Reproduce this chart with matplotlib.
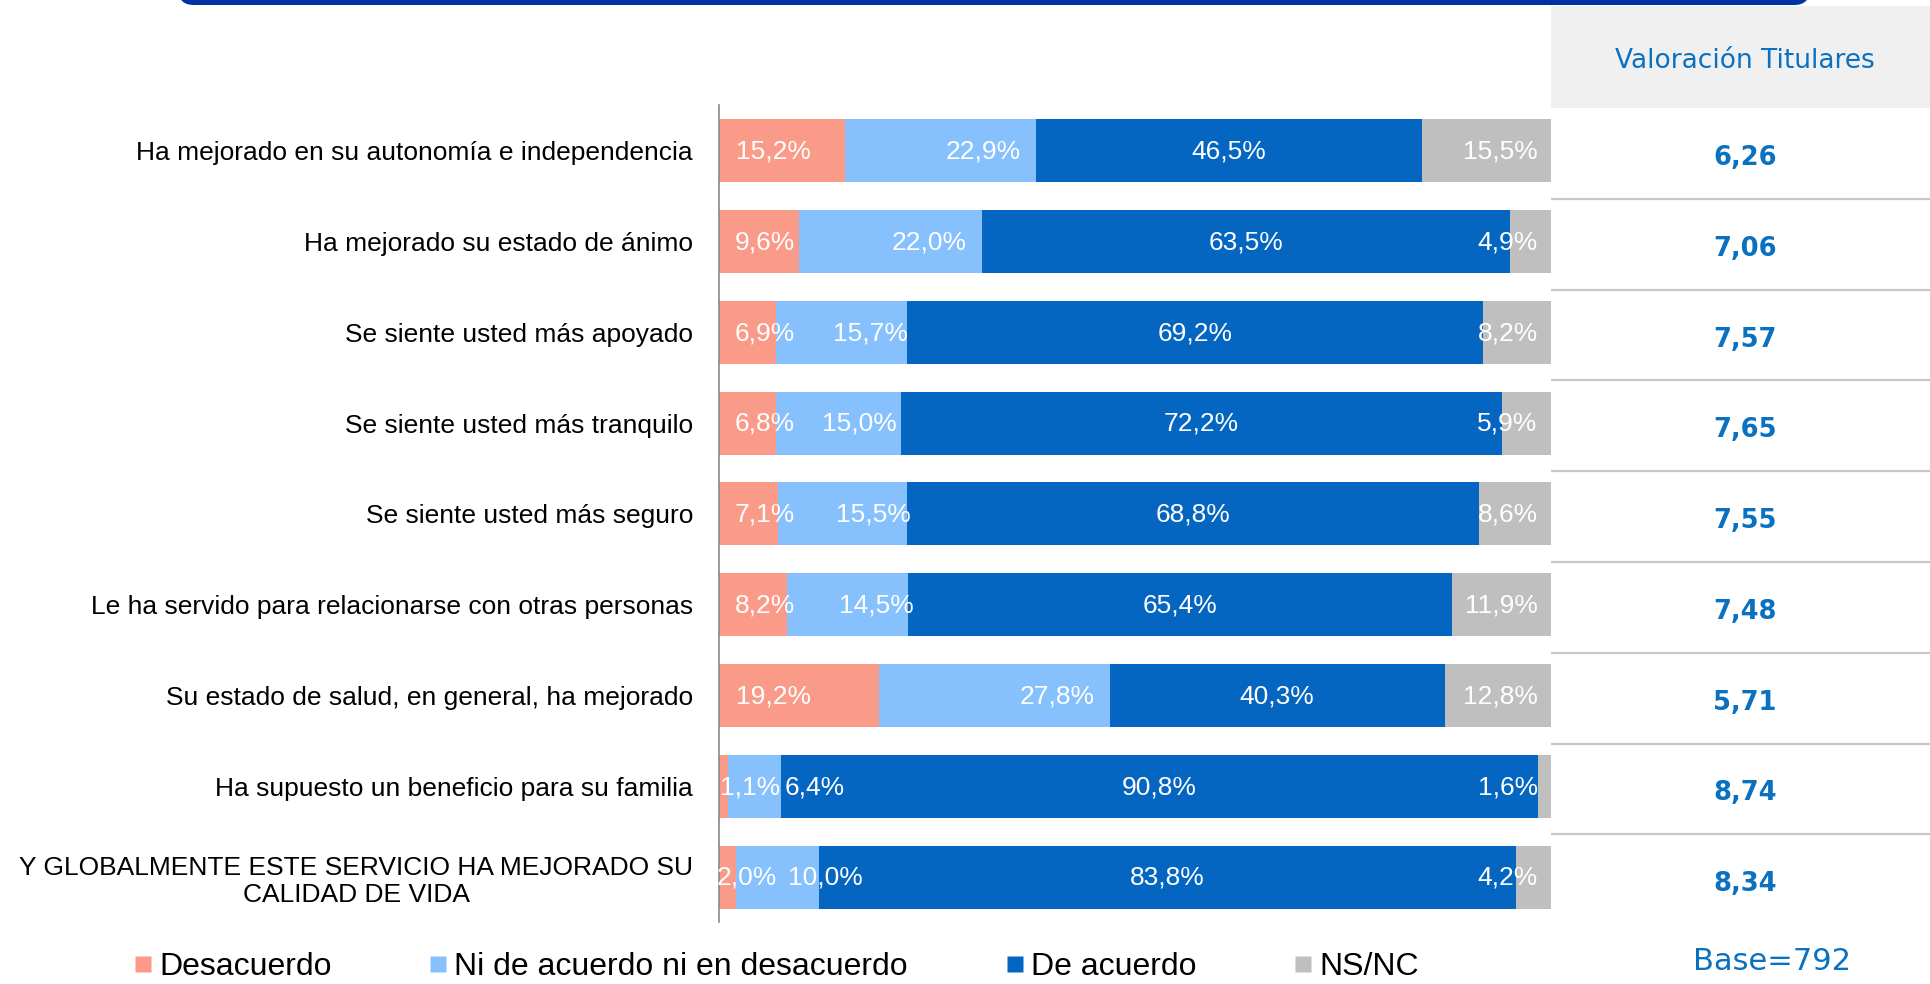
"""
Stacked 100% bar chart: valoracion del servicio (titulares), with a side column of scores.
Writes out.png (1931x984).
"""
import matplotlib
matplotlib.use("Agg")
import matplotlib.pyplot as plt
import numpy as np
from matplotlib.lines import Line2D
from matplotlib.patches import FancyBboxPatch, Rectangle

W, H, DPI = 1931, 984, 100

categories = [
    "Ha mejorado en su autonomía e independencia",
    "Ha mejorado su estado de ánimo",
    "Se siente usted más apoyado",
    "Se siente usted más tranquilo",
    "Se siente usted más seguro",
    "Le ha servido para relacionarse con otras personas",
    "Su estado de salud, en general, ha mejorado",
    "Ha supuesto un beneficio para su familia",
    "Y GLOBALMENTE ESTE SERVICIO HA MEJORADO SU\nCALIDAD DE VIDA",
]
series_names = ["Desacuerdo", "Ni de acuerdo ni en desacuerdo", "De acuerdo", "NS/NC"]
desacuerdo = [15.2, 9.6, 6.9, 6.8, 7.1, 8.2, 19.2, 1.1, 2.0]
neutral = [22.9, 22.0, 15.7, 15.0, 15.5, 14.5, 27.8, 6.4, 10.0]
de_acuerdo = [46.5, 63.5, 69.2, 72.2, 68.8, 65.4, 40.3, 90.8, 83.8]
nsnc = [15.5, 4.9, 8.2, 5.9, 8.6, 11.9, 12.8, 1.6, 4.2]
scores = [6.26, 7.06, 7.57, 7.65, 7.55, 7.48, 5.71, 8.74, 8.34]
score_title = "Valoración Titulares"
base_text = "Base=792"

COLORS = ["#F99B88", "#86C1FD", "#0566C1", "#BFBFBF"]
ACCENT = "#0A70C0"
# label nudges from segment centre (in % of bar), as placed in the original
NUDGE_DES = [-1.1, 0.7, 2.0, 2.1, 1.9, 1.4, -3.1, 3.2, 2.3]
NUDGE_NEU = [5.1, 4.6, 3.4, 2.6, 3.7, 3.5, 7.6, 7.2, 5.8]

SANS = "Liberation Sans"


def fmt_pct(v):
    return f"{v:.1f}%".replace(".", ",")


def main():
    fig = plt.figure(figsize=(W / DPI, H / DPI), dpi=DPI)

    # pixel-space background layer (banner, header box)
    bg = fig.add_axes([0, 0, 1, 1], zorder=0)
    bg.set_xlim(0, W)
    bg.set_ylim(H, 0)
    bg.axis("off")
    bg.add_patch(FancyBboxPatch((178, -60), 1632, 65,
                                boxstyle="round,pad=0,rounding_size=16",
                                fc="#0033A0", ec="none"))
    bg.add_patch(Rectangle((1551, 6), W - 1551, 102, fc="#F0F0F0", ec="none"))
    bg.text(1745, 61, score_title, ha="center", va="center", fontsize=19,
            color=ACCENT, family="DejaVu Sans")
    bg.text(1772, 962, base_text, ha="center", va="center", fontsize=22,
            color=ACCENT, family="DejaVu Sans")

    # bar axes, rows run top to bottom
    y_top, y_bot = 105.3, 922.4
    ax_rect = [719 / W, 1 - y_bot / H, (1551 - 719) / W, (y_bot - y_top) / H]
    ax = fig.add_axes(ax_rect, zorder=1)
    ax.set_facecolor("none")

    data = np.array([desacuerdo, neutral, de_acuerdo, nsnc])
    shares = data / data.sum(axis=0) * 100
    y = np.arange(len(categories))
    left = np.zeros(len(categories))
    for k in range(4):
        ax.barh(y, shares[k], left=left, height=0.694, color=COLORS[k],
                label=series_names[k], edgecolor="none")
        for i in range(len(categories)):
            txt = fmt_pct(data[k, i])
            mid = left[i] + shares[k, i] / 2
            if k == 0:
                ax.text(mid + NUDGE_DES[i], i + 0.01, txt, ha="center", va="center",
                        color="white", fontsize=19, family=SANS)
            elif k == 1:
                ax.text(mid + NUDGE_NEU[i], i + 0.01, txt, ha="center", va="center",
                        color="white", fontsize=19, family=SANS)
            elif k == 2:
                ax.text(mid, i + 0.01, txt, ha="center", va="center",
                        color="white", fontsize=19, family=SANS)
            else:
                ax.text(100 - 1.6, i + 0.01, txt, ha="right", va="center",
                        color="white", fontsize=19, family=SANS)
        left = left + shares[k]

    ax.set_xlim(0, 100)
    ax.set_ylim(len(categories) - 0.5, -0.5)
    ax.set_xticks([])
    ax.set_yticks(y)
    ax.set_yticklabels(categories, fontsize=19, family=SANS, multialignment="center")
    ax.tick_params(axis="y", length=0, pad=18.7)
    for s in ["top", "right", "bottom"]:
        ax.spines[s].set_visible(False)
    ax.spines["left"].set_color("#8A8A8A")
    ax.spines["left"].set_linewidth(1.2)

    # side column with scores
    ax2 = fig.add_axes([1551 / W, ax_rect[1], (W - 1551) / W, ax_rect[3]], zorder=1)
    ax2.set_facecolor("none")
    ax2.set_xlim(0, 1)
    ax2.set_ylim(len(categories) - 0.5, -0.5)
    ax2.axis("off")
    for i, v in enumerate(scores):
        ax2.text(0.511, i + 0.08, f"{v:.2f}".replace(".", ","), ha="center", va="center",
                 fontsize=18.5, fontweight="bold", color=ACCENT, family="DejaVu Sans")
        ax2.axhline(i + 0.53, color="#C8C8C8", lw=1.6)

    handles = [Line2D([], [], marker="s", linestyle="", markersize=11,
                      markerfacecolor=c, markeredgecolor="none") for c in COLORS]
    fig.legend(handles, series_names, loc="center left",
               bbox_to_anchor=(135 / W, 1 - 967 / H), ncol=4, frameon=False,
               prop={"family": SANS, "size": 23}, handlelength=0.47,
               handletextpad=0.28, columnspacing=3.1, borderpad=0, borderaxespad=0)

    fig.savefig("out.png", dpi=DPI)
    print("wrote out.png")


if __name__ == "__main__":
    main()
